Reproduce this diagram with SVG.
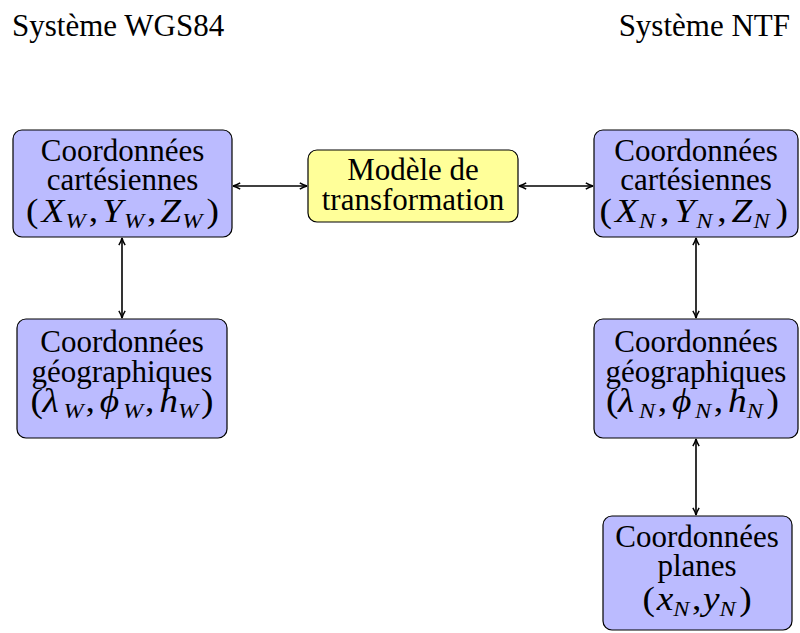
<svg xmlns="http://www.w3.org/2000/svg" width="800" height="633" viewBox="0 0 800 633">
<style>
text{font-family:"Liberation Serif","Times New Roman",serif;fill:#000}
.t{font-size:31px}
.n{font-size:31px;text-anchor:middle}
.m{font-size:34px}
.i{font-style:italic}
.s{font-size:22px;font-style:italic}
.b{fill:#bbbbff;stroke:#000;stroke-width:1.2}
.y{fill:#ffff99;stroke:#000;stroke-width:1.2}
.c{stroke:#000;stroke-width:1.6;fill:none;marker-start:url(#a);marker-end:url(#a)}
</style>
<defs>
<marker id="a" viewBox="0 0 10 10" refX="9" refY="5" markerWidth="9" markerHeight="9" orient="auto-start-reverse" markerUnits="userSpaceOnUse">
<path d="M1,1.5 Q5,4 9,5 Q5,6 1,8.5" fill="none" stroke="#000" stroke-width="1.6"/>
</marker>
</defs>
<text class="t" x="12" y="36">Système WGS84</text>
<text class="t" x="790" y="36" text-anchor="end">Système NTF</text>
<g id="connectors">
<line class="c" x1="233" y1="186" x2="307" y2="186"/>
<line class="c" x1="519" y1="186" x2="593" y2="186"/>
<line class="c" x1="122" y1="238" x2="122" y2="318"/>
<line class="c" x1="696" y1="238" x2="696" y2="318"/>
<line class="c" x1="696" y1="439" x2="696" y2="515"/>
</g>
<g id="cartW">
<rect class="b" x="13" y="130" width="219" height="107" rx="9"/>
<text class="n" x="122.5" y="161">Coordonnées</text>
<text class="n" x="122.5" y="190">cartésiennes</text>
<text class="m" transform="translate(26,222) scale(1.1,1)"><tspan x="0">(</tspan><tspan class="i" x="14">X</tspan><tspan class="s" x="36" dy="6">W</tspan><tspan x="57" dy="-6">,</tspan><tspan class="i" x="69">Y</tspan><tspan class="s" x="89" dy="6">W</tspan><tspan x="110" dy="-6">,</tspan><tspan class="i" x="122">Z</tspan><tspan class="s" x="142" dy="6">W</tspan><tspan x="164" dy="-6">)</tspan></text>
</g>
<g id="modele">
<rect class="y" x="308" y="150" width="210" height="72" rx="9"/>
<text class="n" x="413" y="180">Modèle de</text>
<text class="n" x="413" y="210">transformation</text>
</g>
<g id="cartN">
<rect class="b" x="594" y="130" width="204" height="107" rx="9"/>
<text class="n" x="696" y="161">Coordonnées</text>
<text class="n" x="696" y="190">cartésiennes</text>
<text class="m" transform="translate(599.5,222) scale(1.1,1)"><tspan x="0">(</tspan><tspan class="i" x="14">X</tspan><tspan class="s" x="36" dy="6">N</tspan><tspan x="55" dy="-6">,</tspan><tspan class="i" x="68">Y</tspan><tspan class="s" x="88" dy="6">N</tspan><tspan x="107" dy="-6">,</tspan><tspan class="i" x="120">Z</tspan><tspan class="s" x="140" dy="6">N</tspan><tspan x="160" dy="-6">)</tspan></text>
</g>
<g id="geoW">
<rect class="b" x="17" y="319" width="210" height="119" rx="9"/>
<text class="n" x="122" y="352">Coordonnées</text>
<text class="n" x="122" y="382">géographiques</text>
<text class="m" transform="translate(30.5,412) scale(1.1,1)"><tspan x="0">(</tspan><tspan class="i" x="11">λ</tspan><tspan class="s" x="30" dy="6">W</tspan><tspan x="50" dy="-6">,</tspan><tspan class="i" x="63">ϕ</tspan><tspan class="s" x="84" dy="6">W</tspan><tspan x="104" dy="-6">,</tspan><tspan class="i" x="117">h</tspan><tspan class="s" x="134" dy="6">W</tspan><tspan x="155" dy="-6">)</tspan></text>
</g>
<g id="geoN">
<rect class="b" x="594" y="319" width="204" height="119" rx="9"/>
<text class="n" x="696" y="352">Coordonnées</text>
<text class="n" x="696" y="382">géographiques</text>
<text class="m" transform="translate(606,412) scale(1.1,1)"><tspan x="0">(</tspan><tspan class="i" x="11">λ</tspan><tspan class="s" x="30" dy="6">N</tspan><tspan x="47" dy="-6">,</tspan><tspan class="i" x="60">ϕ</tspan><tspan class="s" x="81" dy="6">N</tspan><tspan x="98" dy="-6">,</tspan><tspan class="i" x="111">h</tspan><tspan class="s" x="128" dy="6">N</tspan><tspan x="146" dy="-6">)</tspan></text>
</g>
<g id="planes">
<rect class="b" x="603" y="516" width="189" height="114" rx="9"/>
<text class="n" x="697" y="547">Coordonnées</text>
<text class="n" x="697" y="576">planes</text>
<text class="m" transform="translate(642.5,610) scale(1.1,1)"><tspan x="0">(</tspan><tspan class="i" x="13">x</tspan><tspan class="s" x="28" dy="6">N</tspan><tspan x="45" dy="-6">,</tspan><tspan class="i" x="55">y</tspan><tspan class="s" x="70" dy="6">N</tspan><tspan x="88" dy="-6">)</tspan></text>
</g>
</svg>
